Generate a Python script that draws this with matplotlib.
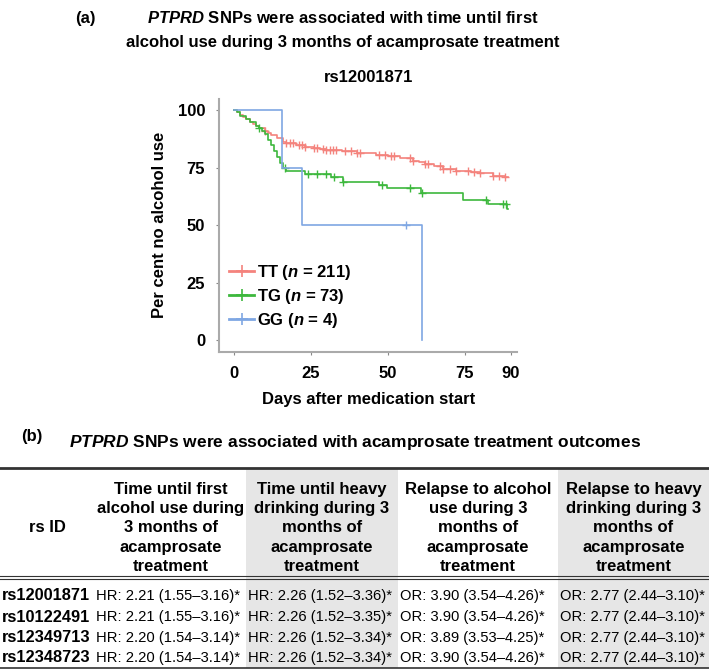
import numpy as np
import matplotlib
matplotlib.use("Agg")
import matplotlib.pyplot as plt
from matplotlib.lines import Line2D
from matplotlib.patches import Rectangle

plt.rcParams["font.family"] = ["Liberation Sans", "DejaVu Sans"]
plt.rcParams["mathtext.fontset"] = "custom"
plt.rcParams["mathtext.rm"] = "Liberation Sans:bold"
plt.rcParams["mathtext.it"] = "Liberation Sans:bold:italic"

# --- Kaplan-Meier curves (step times, % no alcohol use) ---
tt_times = [0, 1, 2, 3, 4, 5, 6, 7, 8, 10, 11, 12, 14, 16, 17, 20, 23, 26, 28, 30,
            35, 40, 46, 50, 54, 58, 60, 62, 65, 68, 72, 77, 80, 84, 88]
tt_surv = [100, 99, 98, 97, 96, 95, 94, 93, 92, 91, 90, 89, 88, 86, 85.5, 85, 84, 83.5, 83, 82.5,
           82, 81.3, 80.5, 80, 79, 78, 77.5, 76.5, 75.5, 74.5, 73.5, 73, 72.5, 71.5, 71]
tt_censor = [10, 17, 18, 19, 21, 22, 23, 26, 27, 29, 30, 31, 32, 33, 36, 38, 40, 41,
             47, 49, 51, 52, 57, 58, 62, 63, 67, 68, 70, 72, 76, 78, 80, 84, 86, 88]

tg_times = [0, 1, 2, 4, 5, 7, 8, 9, 10, 11, 12, 13, 14, 15, 16, 17, 23, 31.5, 35.4,
            47, 49.7, 60.7, 74.4, 82.5, 88.6]
tg_surv = [100, 99, 97.5, 96, 95, 93, 92, 91, 89.5, 87, 85, 82, 79.5, 77, 75, 73.5, 72.2, 70.8, 68.8,
           67.4, 66, 64, 60.8, 59, 57]
tg_censor = [8, 16.5, 24, 27, 30, 32.5, 35.5, 48, 57, 61, 82, 87.5, 88.3]

gg_times = [0, 15.5, 22, 61]
gg_surv = [100, 75, 50, 0]
gg_censor = [56]

end_day = 89

groups = ["TT", "TG", "GG"]
group_n = [211, 73, 4]
colors = ["#F4837D", "#3DB83D", "#7FA7E3"]

# --- table (b) ---
col_headers = [
    "rs ID",
    "Time until first\nalcohol use during\n3 months of\nacamprosate\ntreatment",
    "Time until heavy\ndrinking during 3\nmonths of\nacamprosate\ntreatment",
    "Relapse to alcohol\nuse during 3\nmonths of\nacamprosate\ntreatment",
    "Relapse to heavy\ndrinking during 3\nmonths of\nacamprosate\ntreatment",
]
snp_ids = ["rs12001871", "rs10122491", "rs12349713", "rs12348723"]
first_use = ["HR: 2.21 (1.55\u20133.16)*", "HR: 2.21 (1.55\u20133.16)*",
             "HR: 2.20 (1.54\u20133.14)*", "HR: 2.20 (1.54\u20133.14)*"]
heavy_time = ["HR: 2.26 (1.52\u20133.36)*", "HR: 2.26 (1.52\u20133.35)*",
              "HR: 2.26 (1.52\u20133.34)*", "HR: 2.26 (1.52\u20133.34)*"]
relapse_use = ["OR: 3.90 (3.54\u20134.26)*", "OR: 3.90 (3.54\u20134.26)*",
               "OR: 3.89 (3.53\u20134.25)*", "OR: 3.90 (3.54\u20134.26)*"]
relapse_heavy = ["OR: 2.77 (2.44\u20133.10)*", "OR: 2.77 (2.44\u20133.10)*",
                 "OR: 2.77 (2.44\u20133.10)*", "OR: 2.77 (2.44\u20133.10)*"]


def km_value(times, surv, t):
    idx = np.searchsorted(times, t, side="right") - 1
    return np.asarray(surv)[idx]


fig = plt.figure(figsize=(7.09, 6.71), dpi=100)

# ---------------- panel (a) ----------------
fig.text(0.12, 0.973, "(a)", fontsize=12, fontweight="bold", ha="center", va="center")
fig.text(0.483, 0.973, r"$\it{PTPRD}$ SNPs were associated with time until first",
         fontsize=12, fontweight="bold", ha="center", va="center")
fig.text(0.483, 0.936, "alcohol use during 3 months of acamprosate treatment",
         fontsize=12, fontweight="bold", ha="center", va="center")

ax = fig.add_axes([0.309, 0.4754, 0.4205, 0.3778])
all_times = [tt_times, tg_times, gg_times]
all_surv = [tt_surv, tg_surv, gg_surv]
all_censor = [tt_censor, tg_censor, gg_censor]
for name, n, c, tms, sv, cens in zip(groups, group_n, colors, all_times, all_surv, all_censor):
    xs = list(tms)
    ys = list(sv)
    if ys[-1] > 0:
        xs.append(end_day)
        ys.append(ys[-1])
    ax.step(xs, ys, where="post", color=c, lw=1.2)
    cy = [km_value(tms, sv, t) for t in cens]
    ax.plot(cens, cy, ls="none", marker="+", ms=6, mew=1.0, color=c)

ax.set_xlim(-4.9, 92)
ax.set_ylim(-5.2, 105)
ax.set_xticks([0, 25, 50, 75, 90])
ax.set_yticks([0, 25, 50, 75, 100])
ax.tick_params(labelsize=12, length=2, width=0.8, color="#888888", pad=8)
for lab in ax.get_xticklabels() + ax.get_yticklabels():
    lab.set_fontweight("bold")
ax.spines["top"].set_visible(False)
ax.spines["right"].set_visible(False)
for s in ["left", "bottom"]:
    ax.spines[s].set_color("#aaaaaa")
    ax.spines[s].set_linewidth(1.5)
ax.set_title("rs12001871", fontsize=12, fontweight="bold", pad=12)
ax.set_xlabel("Days after medication start", fontsize=12, fontweight="bold", labelpad=8)
ax.set_ylabel("Per cent no alcohol use", fontsize=12, fontweight="bold", labelpad=8)

handles = [Line2D([0], [0], color=c, lw=2, marker="+", ms=9, mew=1.2) for c in colors]
labels = [f"{g} ($\\it{{n}}$ = {n})" for g, n in zip(groups, group_n)]
ax.legend(handles, labels, loc="upper left", bbox_to_anchor=(0.0, 0.39), frameon=False,
          prop={"size": 12, "weight": "bold"}, handlelength=1.5, handletextpad=0.2,
          labelspacing=0.3, borderaxespad=0.2)

# ---------------- panel (b) ----------------
tax = fig.add_axes([0, 0, 1, 1], zorder=-1)
tax.set_xlim(0, 709)
tax.set_ylim(671, 0)
tax.axis("off")

col_edges = [0, 95, 246, 398, 558, 709]
gray_cols = [2, 4]
top_rule, head_rule, bottom_rule = 468, 577, 668
row_y = [596, 617, 638, 658]

tax.text(32, 437, "(b)", fontsize=12, fontweight="bold", ha="center", va="center")
tax.text(355, 442, r"$\it{PTPRD}$ SNPs were associated with acamprosate treatment outcomes",
         fontsize=12.5, fontweight="bold", ha="center", va="center")

for ci in gray_cols:
    tax.add_patch(Rectangle((col_edges[ci], top_rule), col_edges[ci + 1] - col_edges[ci],
                            bottom_rule - top_rule, facecolor="#e6e6e6", edgecolor="none"))
tax.plot([0, 709], [top_rule, top_rule], color="#333333", lw=2)
tax.plot([0, 709], [head_rule - 1.5, head_rule - 1.5], color="#333333", lw=0.8)
tax.plot([0, 709], [head_rule + 1.5, head_rule + 1.5], color="#333333", lw=0.8)
tax.plot([0, 709], [bottom_rule, bottom_rule], color="#333333", lw=1.2)

head_mid = top_rule + 60
for ci, h in enumerate(col_headers):
    cx = (col_edges[ci] + col_edges[ci + 1]) / 2
    tax.text(cx, head_mid, h, fontsize=12, fontweight="bold", ha="center", va="center",
             linespacing=1.35)

cols = [first_use, heavy_time, relapse_use, relapse_heavy]
for ri, y in enumerate(row_y):
    tax.text(2, y, snp_ids[ri], fontsize=11.8, fontweight="bold", ha="left", va="center")
    for ci, col in enumerate(cols):
        tax.text(col_edges[ci + 1] + 1.5, y, col[ri], fontsize=10.6, ha="left", va="center")

fig.savefig("out.png", dpi=100)
